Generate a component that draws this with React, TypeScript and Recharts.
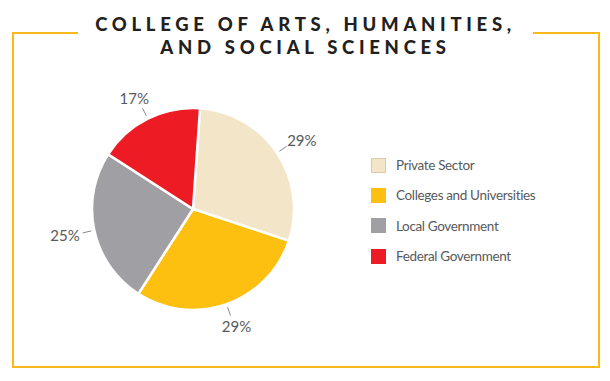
import React from 'react';
import { PieChart, Pie, Cell } from 'recharts';

const sectors = ['Private Sector', 'Colleges and Universities', 'Local Government', 'Federal Government'];
const shares = [29, 29, 25, 17];
const colors = ['#f3e6c8', '#fdc010', '#a0a0a4', '#ed1c24'];

const data = sectors.map((name, i) => ({ name, value: shares[i] }));

const RAD = Math.PI / 180;
const font = 'Lato, "Noto Sans", sans-serif';

const renderLabel = ({ cx, cy, midAngle, outerRadius, value }: any) => {
  const cos = Math.cos(-midAngle * RAD);
  const sin = Math.sin(-midAngle * RAD);
  const r1 = outerRadius + 3;
  const r2 = outerRadius + 12;
  const rt = outerRadius + 23;
  return (
    <g>
      <line x1={cx + r1 * cos} y1={cy + r1 * sin} x2={cx + r2 * cos} y2={cy + r2 * sin} stroke="#8a8a8a" strokeWidth={1} />
      <text x={cx + rt * cos + cos * 7} y={cy + rt * sin} textAnchor="middle" dominantBaseline="central" fill="#58595b" fontSize={15} fontFamily={font}>
        {value}%
      </text>
    </g>
  );
};

export default function App() {
  return (
    <div style={{ position: 'absolute', left: 0, top: 0, width: 610, height: 381, background: '#fff', fontFamily: font }}>
      <div style={{ position: 'absolute', left: 12, top: 32, width: 584, height: 332, border: '2px solid #fbb81b' }} />
      <div style={{ position: 'absolute', left: 78, top: 13, width: 455, background: '#fff', textAlign: 'center', color: '#231f20', fontWeight: 900, fontSize: 18.5, letterSpacing: 4.7, lineHeight: '23px' }}>
        COLLEGE OF ARTS, HUMANITIES,<br />AND SOCIAL SCIENCES
      </div>
      <div style={{ position: 'absolute', left: 0, top: 0 }}>
        <PieChart width={610} height={381} margin={{ top: 0, right: 0, bottom: 0, left: 0 }}>
          <Pie
            data={data}
            dataKey="value"
            nameKey="name"
            cx={193}
            cy={209}
            outerRadius={101}
            startAngle={86}
            endAngle={-274}
            stroke="#fff"
            strokeWidth={2.5}
            label={renderLabel}
            labelLine={false}
            isAnimationActive={false}
          >
            {data.map((d, i) => (
              <Cell key={d.name} fill={colors[i]} />
            ))}
          </Pie>
        </PieChart>
      </div>
      <div style={{ position: 'absolute', left: 371, top: 150 }}>
        {data.map((d, i) => (
          <div key={d.name} style={{ display: 'flex', alignItems: 'center', height: 30.3 }}>
            <div style={{ width: 13, height: 13, background: colors[i], border: '1px solid ' + (i === 0 ? '#d9cca8' : colors[i]), marginRight: 10 }} />
            <span style={{ fontSize: 13.5, letterSpacing: -0.35, color: '#58595b' }}>{d.name}</span>
          </div>
        ))}
      </div>
    </div>
  );
}
